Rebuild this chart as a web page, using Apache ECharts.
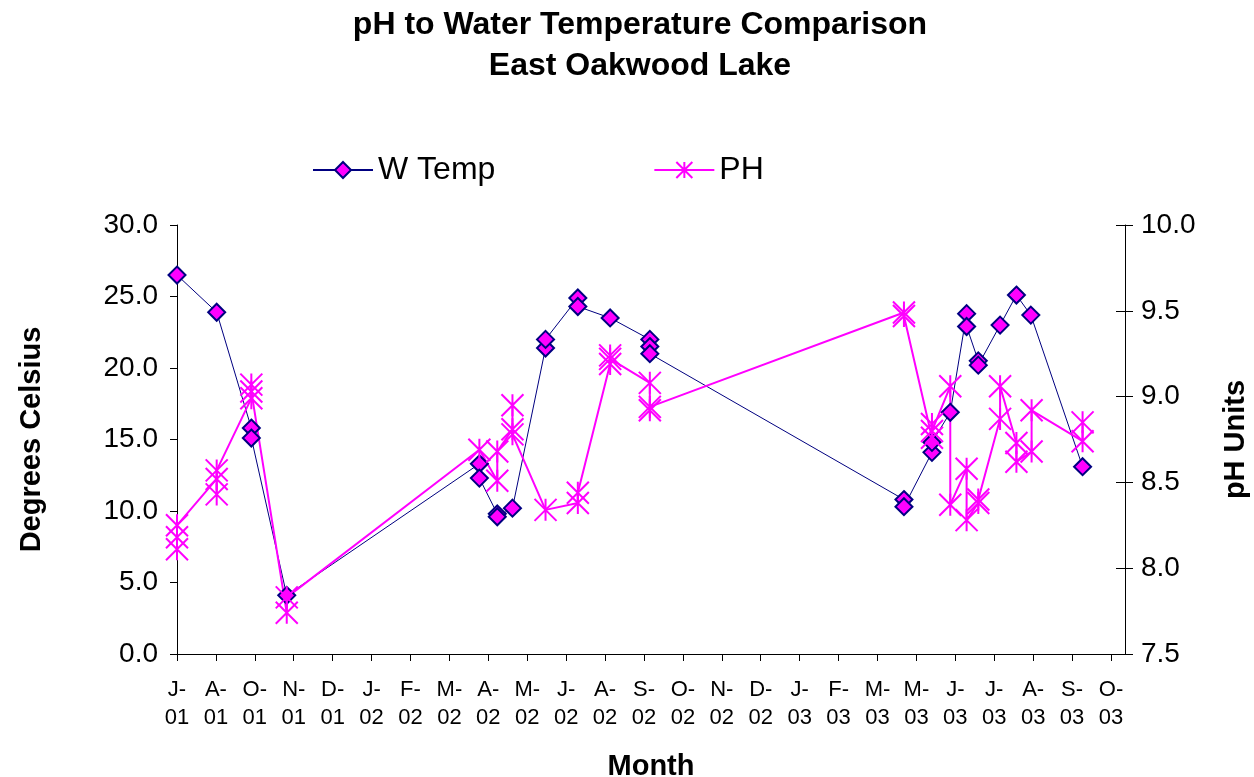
<!DOCTYPE html>
<html>
<head>
<meta charset="utf-8">
<script src="https://cdn.jsdelivr.net/npm/echarts@6/dist/echarts.min.js"></script>
<style>
html,body{margin:0;padding:0;background:#fff;}
#chart{width:1254px;height:777px;}
</style>
</head>
<body>
<div id="chart"></div>
<script>
// Tick labels of the time axis (one per tick, evenly spaced)
const monthLabels = ['J-01','A-01','O-01','N-01','D-01','J-02','F-02','M-02','A-02','M-02','J-02','A-02','S-02','O-02','N-02','D-02','J-03','F-03','M-03','M-03','J-03','J-03','A-03','S-03','O-03'];

// Water temperature samples: position along the month axis (in tick units) and value (deg C)
const tempPos  = [0, 1.02, 1.91, 1.91, 2.82, 7.77, 7.77, 8.23, 8.23, 8.62, 9.47, 9.47, 10.30, 10.30, 11.13, 12.15, 12.15, 12.15, 18.68, 18.68, 19.40, 19.40, 19.87, 20.29, 20.29, 20.59, 20.59, 21.15, 21.57, 21.94, 23.27];
const tempVals = [26.5, 23.9, 15.8, 15.1, 4.1, 13.3, 12.3, 9.8, 9.6, 10.2, 21.4, 22.0, 24.9, 24.3, 23.5, 22.0, 21.5, 21.0, 10.8, 10.3, 14.1, 14.8, 16.9, 23.8, 22.9, 20.5, 20.2, 23.0, 25.1, 23.7, 13.1];

// pH samples: position along the month axis (in tick units) and value (pH units)
const phPos  = [0, 0, 0, 1.02, 1.02, 1.02, 1.91, 1.91, 1.91, 2.82, 2.82, 7.77, 8.23, 8.23, 8.62, 8.62, 8.62, 9.47, 10.30, 10.30, 11.13, 11.13, 11.13, 12.15, 12.15, 12.15, 18.68, 18.68, 19.40, 19.40, 19.40, 19.87, 19.87, 20.29, 20.29, 20.59, 20.59, 21.15, 21.15, 21.57, 21.57, 21.96, 21.96, 23.27, 23.27];
const phVals = [8.11, 8.18, 8.25, 8.52, 8.43, 8.57, 8.99, 9.07, 9.03, 7.74, 7.83, 8.69, 8.51, 8.68, 8.81, 8.95, 8.78, 8.34, 8.38, 8.44, 9.19, 9.24, 9.22, 9.08, 8.92, 8.94, 9.49, 9.47, 8.76, 8.84, 8.80, 9.06, 8.37, 8.58, 8.28, 8.38, 8.40, 8.87, 9.06, 8.73, 8.62, 8.68, 8.92, 8.74, 8.85];

const tickIdx = monthLabels.map((_, i) => i);
const FONT = "'Liberation Sans', Arial, sans-serif";
const asterisk = 'path://M0,0L10,10M10,0L0,10M5,0L5,10';

const chart = echarts.init(document.getElementById('chart'), null, {renderer: 'canvas'});
chart.setOption({
  animation: false,
  backgroundColor: '#ffffff',
  textStyle: {fontFamily: FONT, color: '#000'},
  title: {
    text: 'pH to Water Temperature Comparison\nEast Oakwood Lake',
    left: 635,
    top: 0,
    textAlign: 'center',
    textStyle: {fontFamily: FONT, fontSize: 32, fontWeight: 'bold', color: '#000', lineHeight: 41}
  },
  legend: {
    left: 307,
    top: 149,
    itemWidth: 60,
    itemHeight: 20,
    itemGap: 158,
    textStyle: {fontFamily: FONT, fontSize: 32, color: '#000'},
    data: ['W Temp', 'PH']
  },
  grid: {left: 177, right: 129, top: 225, bottom: 123, containLabel: false, outerBoundsMode: 'none'},
  xAxis: {
    type: 'value',
    min: 0,
    max: 24.36,
    name: 'Month',
    nameLocation: 'middle',
    nameGap: 98,
    nameTextStyle: {fontFamily: FONT, fontSize: 29, fontWeight: 'bold', color: '#000'},
    axisLine: {lineStyle: {color: '#000', width: 1}},
    axisTick: {customValues: tickIdx, length: 7, lineStyle: {color: '#000'}},
    axisLabel: {
      customValues: tickIdx,
      formatter: v => { const s = monthLabels[Math.round(v)]; return s ? s.replace('-', '-\n') : ''; },
      fontFamily: FONT, fontSize: 22, color: '#000', lineHeight: 28, margin: 22
    },
    splitLine: {show: false}
  },
  yAxis: [
    {
      type: 'value', min: 0, max: 30, interval: 5, position: 'left',
      name: 'Degrees Celsius', nameLocation: 'middle', nameRotate: 90, nameGap: 131,
      nameTextStyle: {fontFamily: FONT, fontSize: 29, fontWeight: 'bold', color: '#000'},
      axisLine: {show: true, lineStyle: {color: '#000'}},
      axisTick: {show: true, length: 7, lineStyle: {color: '#000'}},
      axisLabel: {formatter: v => v.toFixed(1), fontFamily: FONT, fontSize: 28, color: '#000', margin: 19},
      splitLine: {show: false}
    },
    {
      type: 'value', min: 7.5, max: 10, interval: 0.5, position: 'right',
      name: 'pH Units', nameLocation: 'middle', nameRotate: 90, nameGap: 96,
      nameTextStyle: {fontFamily: FONT, fontSize: 29, fontWeight: 'bold', color: '#000'},
      axisLine: {show: true, lineStyle: {color: '#000'}},
      axisTick: {show: true, length: 8, lineStyle: {color: '#000'}},
      axisLabel: {formatter: v => v.toFixed(1), fontFamily: FONT, fontSize: 28, color: '#000', margin: 16},
      splitLine: {show: false}
    },
    {
      type: 'value', min: 7.5, max: 10, interval: 0.5, position: 'right',
      axisLine: {show: false},
      axisTick: {show: true, inside: true, length: 9, lineStyle: {color: '#000'}},
      axisLabel: {show: false},
      splitLine: {show: false}
    }
  ],
  series: [
    {
      name: 'W Temp',
      type: 'line',
      yAxisIndex: 0,
      data: tempPos.map((x, i) => [x, tempVals[i]]),
      symbol: 'diamond',
      symbolSize: 17,
      showAllSymbol: true,
      lineStyle: {color: '#000080', width: 1},
      itemStyle: {color: '#FF00FF', borderColor: '#000080', borderWidth: 2}
    },
    {
      name: 'PH',
      type: 'line',
      yAxisIndex: 1,
      data: phPos.map((x, i) => [x, phVals[i]]),
      symbol: asterisk,
      symbolSize: 22,
      showAllSymbol: true,
      lineStyle: {color: '#FF00FF', width: 2},
      itemStyle: {color: '#FF00FF', borderColor: '#FF00FF', borderWidth: 2}
    }
  ]
});
</script>
</body>
</html>
